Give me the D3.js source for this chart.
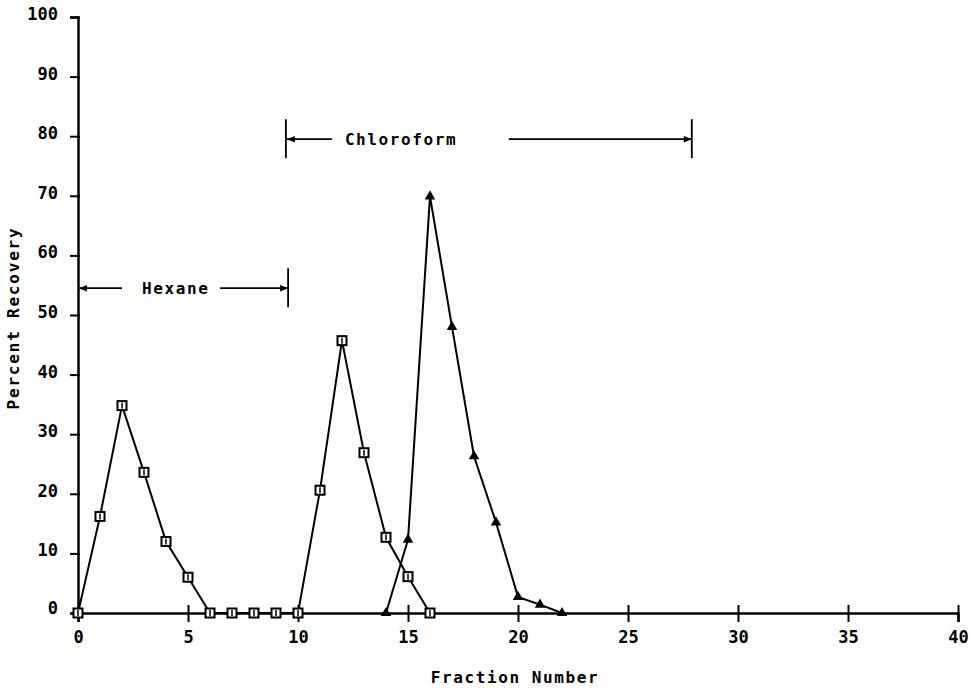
<!DOCTYPE html>
<html>
<head>
<meta charset="utf-8">
<script src="https://cdn.jsdelivr.net/npm/d3@7"></script>
<style>
  body { margin: 0; background: #fff; }
  svg text { font-family: "DejaVu Sans Mono", monospace; font-weight: bold; fill: #000; }
</style>
</head>
<body>
<svg width="970" height="689"></svg>
<script>
// fraction numbers and percent recovery
const squareX = [0, 1, 2, 3, 4, 5, 6, 7, 8, 9, 10, 11, 12, 13, 14, 15, 16];
const squareY = [0, 16.2, 34.8, 23.6, 12, 6, 0, 0, 0, 0, 0, 20.6, 45.7, 26.9, 12.7, 6.1, 0];
const triX = [14, 15, 16, 17, 18, 19, 20, 21, 22];
const triY = [0, 12.3, 69.9, 48, 26.3, 15.2, 2.7, 1.4, 0];
const xTicks = [0, 5, 10, 15, 20, 25, 30, 35, 40];
const yTicks = [0, 10, 20, 30, 40, 50, 60, 70, 80, 90, 100];

const svg = d3.select("svg");
const x = d3.scaleLinear().domain([0, 40]).range([78, 958]);
const y = d3.scaleLinear().domain([0, 100]).range([613, 17]);

// arrowheads
svg.append("defs").append("marker")
  .attr("id", "arr")
  .attr("viewBox", "0 0 10 10")
  .attr("refX", 10).attr("refY", 5)
  .attr("markerWidth", 11).attr("markerHeight", 8)
  .attr("markerUnits", "userSpaceOnUse")
  .attr("orient", "auto-start-reverse")
  .append("path").attr("d", "M0,1 L10,5 L0,9 Z").attr("fill", "#000");

// y axis
const yAxis = svg.append("g")
  .attr("transform", `translate(${x(0)},0)`)
  .call(d3.axisLeft(y).tickValues(yTicks).tickSize(8).tickPadding(12));
yAxis.select(".domain").attr("stroke-width", 2.5);
yAxis.selectAll(".tick line").attr("x1", 2).attr("stroke-width", 2);
yAxis.selectAll(".tick text").attr("font-size", 17).attr("font-family", null).attr("dy", "0.15em");
yAxis.selectAll(".tick").filter(d => d === 0).select("text").attr("dy", "0em");

// x axis
const xAxis = svg.append("g")
  .attr("transform", `translate(0,${y(0)})`)
  .call(d3.axisBottom(x).tickValues(xTicks).tickSize(9).tickPadding(9));
xAxis.select(".domain").attr("stroke-width", 2.5);
xAxis.selectAll(".tick line").attr("y1", -8).attr("stroke-width", 2);
xAxis.selectAll(".tick text").attr("font-size", 17).attr("font-family", null);

// axis titles
svg.append("text")
  .attr("x", 515).attr("y", 683)
  .attr("text-anchor", "middle").attr("font-size", 16).attr("letter-spacing", 1.6)
  .text("Fraction Number");
svg.append("text")
  .attr("transform", "translate(19,318) rotate(-90)")
  .attr("text-anchor", "middle").attr("font-size", 16).attr("letter-spacing", 1.8)
  .text("Percent Recovery");

// solvent annotations
function bracket(x0, x1, yv, label, gapL, gapR, textGap, barAt) {
  const py = y(yv);
  const g = svg.append("g");
  g.append("line").attr("x1", x(x0) + gapL).attr("x2", x(x0) + 1).attr("y1", py).attr("y2", py)
    .attr("stroke", "#000").attr("stroke-width", 1.8).attr("marker-end", "url(#arr)");
  g.append("line").attr("x1", x(x1) - gapR).attr("x2", x(x1)).attr("y1", py).attr("y2", py)
    .attr("stroke", "#000").attr("stroke-width", 1.8).attr("marker-end", "url(#arr)");
  barAt.forEach(b => {
    g.append("line").attr("x1", x(b)).attr("x2", x(b))
      .attr("y1", py - 20).attr("y2", py + 19)
      .attr("stroke", "#000").attr("stroke-width", 1.8);
  });
  g.append("text").attr("x", x(x0) + gapL + textGap).attr("y", py + 6)
    .attr("font-size", 16).attr("letter-spacing", 1.6).text(label);
}
bracket(0, 9.55, 54.5, "Hexane", 44, 68, 20, [9.55]);
bracket(9.45, 27.9, 79.5, "Chloroform", 46, 183, 13, [9.45, 27.9]);

// lines
const line = d3.line().x(d => x(d[0])).y(d => y(d[1]));
const sq = squareX.map((v, i) => [v, squareY[i]]);
const tr = triX.map((v, i) => [v, triY[i]]);
[sq, tr].forEach(s => {
  svg.append("path").datum(s).attr("d", line)
    .attr("fill", "none").attr("stroke", "#000").attr("stroke-width", 2);
});

// square markers
const sqG = svg.append("g").selectAll("g").data(sq).join("g")
  .attr("transform", d => `translate(${x(d[0])},${y(d[1])})`);
sqG.append("rect").attr("x", -4.5).attr("y", -4.5).attr("width", 9).attr("height", 9)
  .attr("fill", "#fff").attr("stroke", "#000").attr("stroke-width", 2);
sqG.append("line").attr("x1", 0).attr("x2", 0).attr("y1", -3).attr("y2", 3)
  .attr("stroke", "#000").attr("stroke-width", 1.5);

// triangle markers
svg.append("g").selectAll("path").data(tr).join("path")
  .attr("transform", d => `translate(${x(d[0])},${y(d[1])})`)
  .attr("d", d3.symbol(d3.symbolTriangle, 48))
  .attr("fill", "#000");
</script>
</body>
</html>
